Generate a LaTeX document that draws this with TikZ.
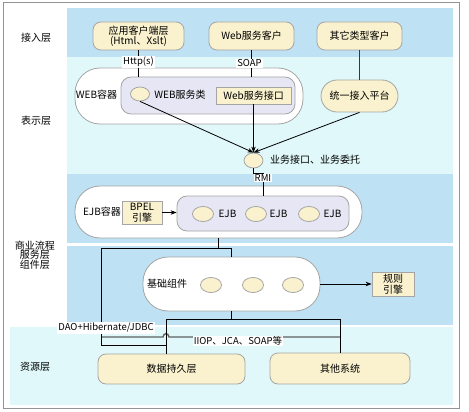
\documentclass[tikz,border=0pt]{standalone}
\usepackage{fontspec}
\setmainfont{Noto Sans CJK SC}
\usetikzlibrary{arrows.meta,shapes.geometric}
\definecolor{bandblue}{RGB}{190,226,244}
\definecolor{bandcyan}{RGB}{224,248,249}
\definecolor{creamc}{RGB}{250,242,206}
\definecolor{lavc}{RGB}{230,230,244}
\definecolor{bordc}{RGB}{165,165,165}
\definecolor{navyc}{RGB}{50,50,110}
\begin{document}
\begin{tikzpicture}[x=1pt,y=-1pt,font=\fontsize{10}{11}\selectfont,
  cn/.style={draw=bordc,fill=creamc,rounded corners=8pt,inner sep=0pt,align=center,line width=0.8pt},
  sq/.style={draw=bordc,fill=creamc,inner sep=0pt,align=center,line width=0.8pt},
  bigc/.style={draw=bordc,fill=white,rounded corners=25pt,inner sep=0pt,line width=0.8pt},
  lavbox/.style={draw=bordc,fill=lavc,rounded corners=10pt,inner sep=0pt,line width=0.8pt},
  ell/.style={ellipse,draw=bordc,fill=creamc,inner sep=0pt,minimum width=20pt,minimum height=15pt,line width=0.8pt},
  txt/.style={inner sep=0pt,align=center},
  lbl/.style={fill=white,inner sep=1pt,font=\fontsize{9.5}{11}\selectfont},
  con/.style={draw=black,line width=0.8pt},
  arr/.style={con,-{Stealth[length=6pt,width=4.5pt]}}]
\useasboundingbox (0,0) rectangle (469,412);
\fill[white] (0,0) rectangle (469,412);
% bands
\fill[bandblue] (67,8) rectangle (453,57);
\fill[bandcyan] (67,57) rectangle (453,173.5);
\fill[bandblue] (67,173.5) rectangle (453,243);
\fill[bandblue] (67,246) rectangle (453,325);
\fill[bandcyan] (10,327) rectangle (453,405);
\draw[gray!85,line width=1pt] (3,3) rectangle (459,408);
% layer labels
\node[txt] (l1) at (36,38) {接入层};
\node[txt] (l2) at (36,121) {表示层};
\node[txt,font=\fontsize{10}{9.5}\selectfont] (l3) at (35,255) {商业流程\\服务层\\组件层};
\node[txt] (l4) at (35,367) {资源层};
% top clients
\node[cn,minimum width=91pt,minimum height=28pt,font=\fontsize{10}{10.5}\selectfont] (app) at (138.5,36) {应用客户端层\\(Html、Xslt)};
\node[cn,minimum width=85pt,minimum height=28pt] (wsc) at (251.5,36) {Web服务客户};
\node[cn,minimum width=85pt,minimum height=28pt] (oth) at (359.5,36) {其它类型客户};
% web container
\node[bigc,minimum width=228pt,minimum height=56pt] (webc) at (189,96) {};
\node[txt] (webct) at (96.5,95) {WEB容器};
\node[lavbox,minimum width=174pt,minimum height=37pt] (websvc) at (208,95.5) {};
\node[ell,minimum width=19pt,minimum height=14pt] (e1) at (140,94) {};
\node[txt] (wst) at (180,95) {WEB服务类};
\node[sq,minimum width=75pt,minimum height=17pt] (wsi) at (253.5,95.5) {Web服务接口};
\node[cn,rounded corners=16pt,minimum width=77pt,minimum height=32pt] (uni) at (359.5,96) {统一接入平台};
\node[ell,minimum width=19pt,minimum height=15pt] (biz) at (253.5,160.5) {};
\node[txt,anchor=west] (bizt) at (270,160) {业务接口、业务委托};
% EJB container
\node[bigc,minimum width=287pt,minimum height=52pt] (ejbc) at (218.5,212) {};
\node[txt] (ejbct) at (102,212) {EJB容器};
\node[sq,minimum width=40pt,minimum height=23pt,font=\fontsize{10}{10.5}\selectfont] (bpel) at (142,212.5) {BPEL\\引擎};
\node[lavbox,minimum width=172pt,minimum height=35pt] (ejbbox) at (263,213.5) {};
\node[ell,minimum width=21pt] (ej1) at (203,214) {};
\node[ell,minimum width=21pt] (ej2) at (256,214) {};
\node[ell,minimum width=21pt] (ej3) at (309,214) {};
\node[txt] (ej1t) at (227.5,214) {EJB};
\node[txt] (ej2t) at (278.5,214) {EJB};
\node[txt] (ej3t) at (332.5,214) {EJB};
% base components
\node[bigc,minimum width=177pt,minimum height=54pt] (basec) at (231.5,284) {};
\node[txt] (basect) at (167,284) {基础组件};
\node[ell,minimum width=21pt] (b1) at (211,285) {};
\node[ell,minimum width=21pt] (b2) at (253,285) {};
\node[ell,minimum width=21pt] (b3) at (293,285) {};
\node[sq,minimum width=42pt,minimum height=24pt,font=\fontsize{10}{10.5}\selectfont] (rule) at (393,284) {规则\\引擎};
% resources
\node[cn,minimum width=147pt,minimum height=30pt] (data) at (171.5,369) {数据持久层};
\node[cn,minimum width=140pt,minimum height=31pt] (osys) at (340,368.5) {其他系统};
% connectors top
\draw[con] (app.south) -- (app.south |- websvc.north) node[lbl,pos=0.45] (httpl) {Http(s)};
\draw[con] (wsc.south) -- (wsc.south |- websvc.north) node[lbl,pos=0.5,xshift=-2pt] (soapl) {SOAP};
\draw[con,navyc] (oth.south) -- (uni.north);
\draw[arr] (e1.south) -- (biz.north);
\draw[arr] (wsi.south) -- (biz.north);
\draw[arr] (uni.south) -- (biz.north);
% RMI
\coordinate (rmic) at (263,173);
\draw[con] (biz.south) |- (rmic) -- (ejbbox.north);
\node[lbl] (rmil) at (263,178) {RMI};
\draw[arr] (bpel.east) -- (bpel.east -| ejbbox.west);
% lower connectors
\coordinate (j1) at (218,248);
\coordinate (j2) at (101,345);
\coordinate (dtop) at (166,354);
\coordinate (j3) at (231.5,319);
\coordinate (g1) at (101,337);
\coordinate (g2) at (340,337);
\draw[gray!75!black,line width=1.4pt] (g1) -- (163,337) .. controls (163.5,332.5) and (168.5,332.5) .. (169,337) -- (g2);
\draw[con] (ejbc.south -| j1) -- (j1) -| (basec.north);
\draw[con] (j1) -| (j2) -- (j2 -| dtop);
\draw[con] (basec.south) -- (j3) -- (j3 -| dtop) -- (dtop);
\draw[con] (j3) -| (osys.north);
\draw[arr] (basec.east) -- (rule.west);
\node[lbl] (daol) at (106,328) {DAO+Hibernate/JDBC};
\node[lbl] (iiopl) at (238,341) {IIOP、JCA、SOAP等};
\end{tikzpicture}
\end{document}
